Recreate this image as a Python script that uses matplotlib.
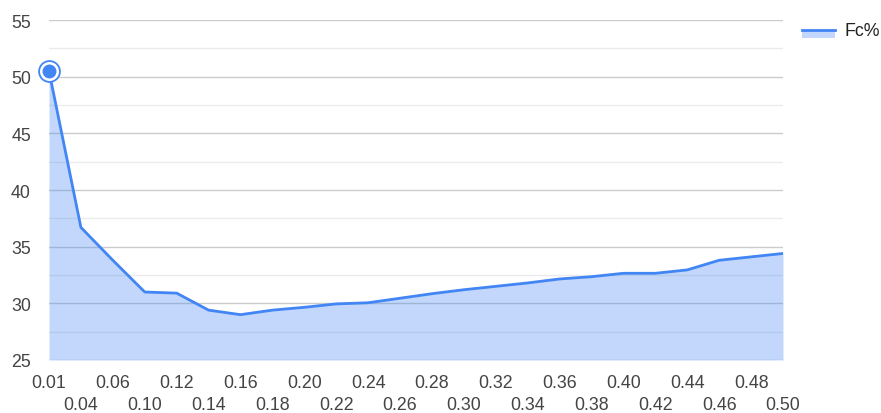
import numpy as np
import matplotlib.pyplot as plt
from matplotlib.patches import Rectangle
from matplotlib.lines import Line2D

plt.rcParams['font.family'] = ['Liberation Sans', 'DejaVu Sans']

# Data
labels = ['0.01', '0.04', '0.06', '0.10', '0.12', '0.14', '0.16', '0.18',
          '0.20', '0.22', '0.24', '0.26', '0.28', '0.30', '0.32', '0.34',
          '0.36', '0.38', '0.40', '0.42', '0.44', '0.46', '0.48', '0.50']
fc = [50.5, 36.7, 33.8, 31.0, 30.9, 29.4, 29.0, 29.4,
      29.65, 29.95, 30.05, 30.45, 30.85, 31.2, 31.5, 31.8,
      32.15, 32.35, 32.65, 32.65, 32.95, 33.8, 34.1, 34.4]
series_name = 'Fc%'

blue = '#4285f4'
W, H = 881, 414
fs = 12.8
fig = plt.figure(figsize=(W / 100, H / 100), dpi=100)
ax = fig.add_axes([49 / W, (H - 361) / H, (783 - 49) / W, (361 - 21) / H])

x = np.arange(len(labels))
ax.fill_between(x, 25, fc, color=blue, alpha=0.32, linewidth=0, zorder=2)
ax.plot(x, fc, color=blue, linewidth=2, zorder=3)

# highlighted first point
ax.plot(x[0], fc[0], 'o', ms=15, mfc='white', mec=blue, mew=1.3, zorder=4, clip_on=False)
ax.plot(x[0], fc[0], 'o', ms=9, mfc=blue, mec=blue, zorder=5, clip_on=False)

ax.set_xlim(0, len(labels) - 1)
ax.set_ylim(25, 55)
ax.set_yticks(np.arange(25, 56, 5))
ax.set_yticks(np.arange(27.5, 55, 5), minor=True)
ax.grid(axis='y', which='major', color='#cccccc', linewidth=1, zorder=0)
ax.grid(axis='y', which='minor', color='#ebebeb', linewidth=1, zorder=0)
for s in ax.spines.values():
    s.set_visible(False)

ax.tick_params(axis='y', which='both', length=0, pad=13, labelsize=fs,
               labelcolor='#444444')
ax.set_xticks(x)
ax.set_xticklabels([])
ax.tick_params(axis='x', length=0)

# staggered category labels
for i, lab in enumerate(labels):
    yoff = -0.065 if i % 2 == 0 else -0.131
    ax.text(x[i], yoff, lab, transform=ax.get_xaxis_transform(),
            ha='center', va='center', fontsize=fs, color='#444444')

# legend
fig.add_artist(Rectangle((802 / W, (H - 39) / H), 33 / W, 8 / H,
                         transform=fig.transFigure, color=blue, alpha=0.32, lw=0))
fig.add_artist(Line2D([802 / W, 835 / W], [(H - 31) / H] * 2,
                      transform=fig.transFigure, color=blue, lw=2))
fig.text(844 / W, (H - 31) / H, series_name, ha='left', va='center',
         fontsize=fs, color='#222222')

fig.savefig('out.png', dpi=100)
